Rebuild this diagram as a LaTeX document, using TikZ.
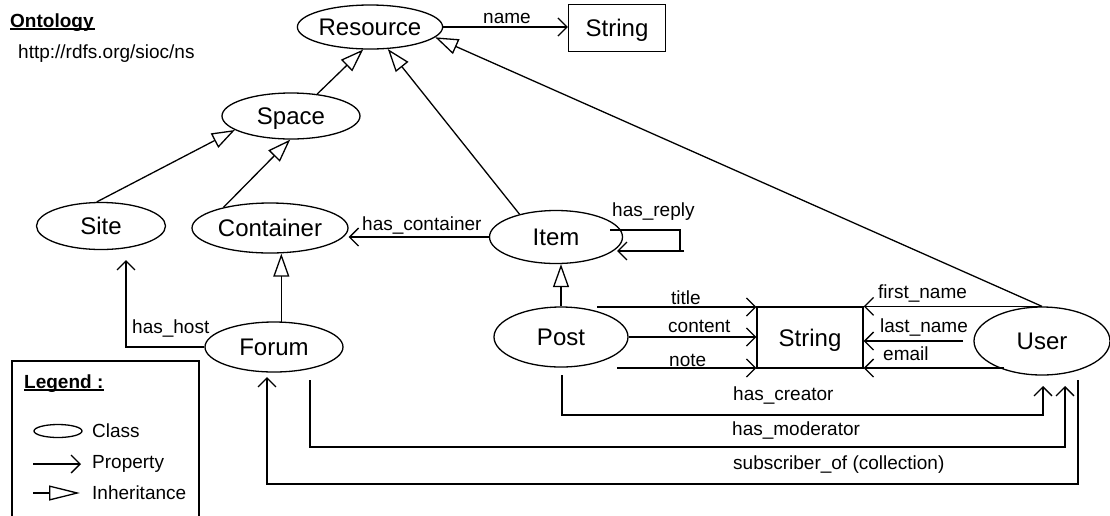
\documentclass[tikz,border=0pt]{standalone}
\usepackage{fontspec}
\setmainfont{Liberation Sans}
\usetikzlibrary{arrows.meta,shapes.geometric}
\begin{document}
\begin{tikzpicture}[x=1pt,y=-1pt,
 cls/.style={draw,ellipse,line width=1.3pt,inner sep=0pt,text height=17pt,text depth=0pt,font=\fontsize{24}{28}\selectfont},
 dtype/.style={draw,rectangle,line width=1.3pt,inner sep=0pt,text height=17pt,text depth=0pt,font=\fontsize{24}{28}\selectfont},
 lbl/.style={anchor=base west,inner sep=0pt,font=\fontsize{19}{22}\selectfont},
 head/.style={anchor=base west,inner sep=0pt,font=\fontsize{19}{22}\selectfont\bfseries},
 prop/.style={line width=1.3pt,-{Straight Barb[length=9pt,width=18pt,line width=1.3pt]}},
 inh/.style={line width=1.3pt,-{Triangle[open,length=23pt,width=16pt,line width=1.3pt]}},
 leginh/.style={line width=1.3pt,-{Triangle[open,length=31pt,width=15pt,line width=1.3pt]}},
 ln/.style={line width=1.3pt},
 uline/.style={line width=1.6pt}]
\useasboundingbox (0,0) rectangle (1110,515);

% classes and datatypes
\node[cls,minimum width=145pt,minimum height=44pt] (res) at (370,27) {Resource};
\node[dtype,minimum width=97pt,minimum height=47pt] (str1) at (617,28) {String};
\node[cls,minimum width=138pt,minimum height=46pt] (spc) at (291,116) {Space};
\node[cls,minimum width=129pt,minimum height=47pt] (site) at (101,226) {Site};
\node[cls,minimum width=156pt,minimum height=50pt] (cont) at (270,228) {Container};
\node[cls,minimum width=133pt,minimum height=53pt] (item) at (556,237) {Item};
\node[cls,minimum width=138pt,minimum height=50pt] (forum) at (274,347) {Forum};
\node[cls,minimum width=134pt,minimum height=60pt] (post) at (561,337) {Post};
\node[dtype,minimum width=106pt,minimum height=61pt] (str2) at (810,337.5) {String};
\node[cls,minimum width=136pt,minimum height=68pt] (user) at (1042,341) {User};

% header texts
\node[head] (ont) at (10,27) {Ontology};
\draw[uline] (ont.base west) ++(0,2) -- ++(85,0);
\node[lbl] (ns) at (18,58) {http://rdfs.org/sioc/ns};

% inheritance
\draw[inh] (spc.40) -- (res.253);
\draw[inh] (site.100) -- (spc.194);
\draw[inh] (cont.156) -- (spc.268);
\draw[inh] (item.148) -- (res.309);
\draw[inh] (user.north) -- (res.351.5);
\draw[inh] (post.north) -- (post.north |- item.south);
\draw[inh] (forum.74) -- (forum.74 |- cont.south);

% properties
\draw[prop] (res.east) -- (str1.west |- res.east);
\node[lbl] (lname) at (483,23) {name};

\draw[prop] (item.west) -- (cont.east |- item.west);
\node[lbl] (lcont) at (362,230) {has\_container};

\coordinate (r1) at (610,230);
\coordinate (r2) at (680,251);
\coordinate (r3) at (684,251);
\coordinate (r4) at (617,251);
\draw[ln] (r1) -| (r2);
\draw[prop] (r3) -- (r4);
\node[lbl] (lreply) at (612,216) {has\_reply};

\coordinate (hh) at (126,260);
\draw[prop] (forum.west) -| (hh);
\node[lbl] (lhost) at (132,333) {has\_host};

\coordinate (t1) at (597,307);
\draw[prop] (t1) -- (str2.west |- t1);
\node[lbl] (ltitle) at (671,304) {title};
\draw[prop] (post.east) -- (str2.west |- post.east);
\node[lbl] (lcontent) at (668,332) {content};
\coordinate (n1) at (617,368);
\draw[prop] (n1) -- (str2.west |- n1);
\node[lbl] (lnote) at (669,366) {note};

\draw[prop] (user.north) -- (str2.east |- user.north);
\node[lbl] (lfirst) at (878,298) {first\_name};
\coordinate (l1) at (963,341);
\draw[prop] (l1) -- (str2.east |- l1);
\node[lbl] (llast) at (880,332) {last\_name};
\coordinate (e1) at (1004,368);
\draw[prop] (e1) -- (str2.east |- e1);
\node[lbl] (lemail) at (883,360) {email};

\coordinate (c1) at (562,375);
\coordinate (c2) at (1043,386);
\draw[prop] (c1) -- ++(0,40) -| (c2);
\node[lbl] (lcreator) at (733,400) {has\_creator};

\coordinate (m1) at (310,380);
\coordinate (m2) at (1065,386);
\draw[prop] (m1) -- ++(0,67) -| (m2);
\node[lbl] (lmod) at (732,435) {has\_moderator};

\coordinate (s1) at (1078,380);
\coordinate (s2) at (267,377);
\draw[prop] (s1) -- ++(0,104) -| (s2);
\node[lbl] (lsub) at (733,469) {subscriber\_of (collection)};

% legend
\draw[ln] (12,516) -- (12,361) -- (199,361) -- (199,516);
\node[head] (leg) at (24,388) {Legend :};
\draw[uline] (leg.base west) ++(0,2) -- ++(80,0);
\node[draw,ellipse,line width=1.3pt,minimum width=48pt,minimum height=13pt,inner sep=0pt] (lc) at (58,431) {};
\node[lbl] (lclass) at (92,437) {Class};
\coordinate (lp1) at (33,464);
\coordinate (lp2) at (81,464);
\draw[prop] (lp1) -- (lp2);
\node[lbl] (lprop) at (92,468) {Property};
\coordinate (li1) at (33,493);
\coordinate (li2) at (80,493);
\draw[leginh] (li1) -- (li2);
\node[lbl] (linh) at (92,499) {Inheritance};
\end{tikzpicture}
\end{document}
